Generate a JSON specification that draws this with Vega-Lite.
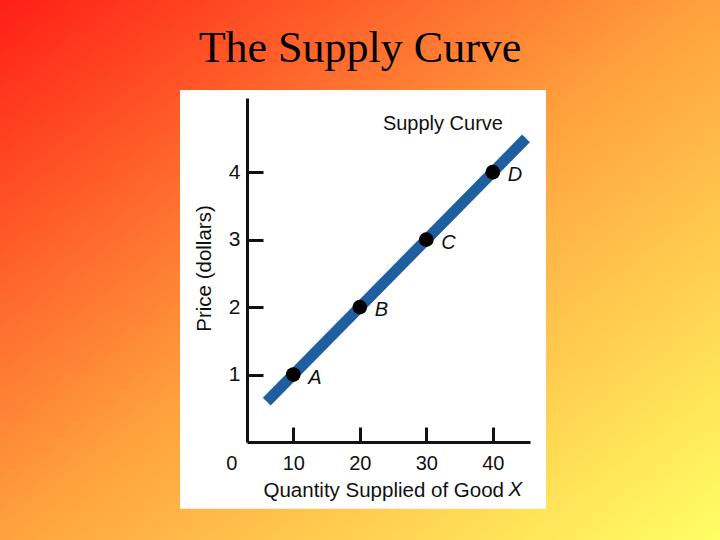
{
  "$schema": "https://vega.github.io/schema/vega-lite/v6.json",
  "width": 283,
  "height": 344,
  "autosize": {"type": "none"},
  "padding": {"left": 247, "top": 98, "right": 190, "bottom": 98},
  "background": "#ffa040",
  "config": {
    "view": {"stroke": null},
    "font": "Liberation Sans",
    "axis": {
      "grid": false,
      "domainColor": "#111111",
      "domainWidth": 3,
      "tickColor": "#111111",
      "tickWidth": 3,
      "labelFont": "Liberation Sans",
      "labelFontSize": 20,
      "labelColor": "#111111",
      "labelFlush": false,
      "labelOverlap": false,
      "titleFont": "Liberation Sans",
      "titleFontSize": 20.5,
      "titleFontWeight": "normal",
      "titleColor": "#111111"
    }
  },
  "datasets": {
    "bg": [{"x": -34.2, "x2": 74.3, "y": -1.46, "y2": 6.56}],
    "panel": [{"x": -7.05, "x2": 48.0, "y": -0.99, "y2": 5.22}],
    "curve": [{"x": 6, "y": 0.6}, {"x": 45, "y": 4.5}],
    "points": [
      {"x": 10, "y": 1, "label": "A"},
      {"x": 20, "y": 2, "label": "B"},
      {"x": 30, "y": 3, "label": "C"},
      {"x": 40, "y": 4, "label": "D"}
    ],
    "curveName": [{"x": 32.5, "y": 4.72, "text": "Supply Curve"}],
    "zero": [{"x": 0.73, "y": -0.32, "text": "0"}],
    "xvar": [{"x": 43.4, "y": -0.8, "text": "X"}],
    "heading": [{"x": 20.03, "y": 5.64, "text": "The Supply Curve"}]
  },
  "layer": [
    {
      "data": {"name": "bg"},
      "mark": {
        "type": "rect",
        "fill": {
          "gradient": "linear",
          "x1": 0, "y1": 0, "x2": 1, "y2": 1,
          "stops": [
            {"offset": 0, "color": "#ff1e16"},
            {"offset": 0.5, "color": "#ffa23e"},
            {"offset": 1, "color": "#ffff64"}
          ]
        }
      },
      "encoding": {
        "x": {
          "field": "x", "type": "quantitative",
          "scale": {"domain": [3.03, 45.6], "nice": false, "zero": false},
          "axis": {
            "zindex": 2,
            "values": [10, 20, 30, 40],
            "format": "d",
            "tickSize": -15,
            "labelPadding": 26,
            "title": "Quantity Supplied of Good",
            "titleX": 16,
            "titleY": 54,
            "titleAlign": "left",
            "titleBaseline": "alphabetic"
          }
        },
        "x2": {"field": "x2"},
        "y": {
          "field": "y", "type": "quantitative",
          "scale": {"domain": [0, 5.1], "nice": false, "zero": false},
          "axis": {
            "zindex": 2,
            "values": [1, 2, 3, 4],
            "format": "d",
            "tickSize": -16,
            "labelPadding": 23,
            "labelFontSize": 21,
            "title": "Price (dollars)",
            "titleX": -36.5,
            "titleY": 170,
            "titleAngle": -90,
            "titleAlign": "center",
            "titleBaseline": "alphabetic"
          }
        },
        "y2": {"field": "y2"}
      }
    },
    {
      "data": {"name": "panel"},
      "mark": {"type": "rect", "fill": "#ffffff"},
      "encoding": {
        "x": {"field": "x", "type": "quantitative"},
        "x2": {"field": "x2"},
        "y": {"field": "y", "type": "quantitative"},
        "y2": {"field": "y2"}
      }
    },
    {
      "data": {"name": "curve"},
      "mark": {"type": "line", "stroke": "#1f5f9f", "strokeWidth": 11},
      "encoding": {
        "x": {"field": "x", "type": "quantitative"},
        "y": {"field": "y", "type": "quantitative"}
      }
    },
    {
      "data": {"name": "points"},
      "mark": {"type": "circle", "size": 215, "fill": "#000000", "opacity": 1},
      "encoding": {
        "x": {"field": "x", "type": "quantitative"},
        "y": {"field": "y", "type": "quantitative"}
      }
    },
    {
      "data": {"name": "points"},
      "mark": {"type": "text", "align": "left", "baseline": "middle", "dx": 15, "dy": 3, "fontSize": 20, "fontStyle": "italic", "font": "Liberation Sans", "fill": "#111111"},
      "encoding": {
        "x": {"field": "x", "type": "quantitative"},
        "y": {"field": "y", "type": "quantitative"},
        "text": {"field": "label"}
      }
    },
    {
      "data": {"name": "curveName"},
      "mark": {"type": "text", "align": "center", "baseline": "middle", "fontSize": 20, "font": "Liberation Sans", "fill": "#111111"},
      "encoding": {
        "x": {"field": "x", "type": "quantitative"},
        "y": {"field": "y", "type": "quantitative"},
        "text": {"field": "text"}
      }
    },
    {
      "data": {"name": "zero"},
      "mark": {"type": "text", "align": "center", "baseline": "middle", "fontSize": 20, "font": "Liberation Sans", "fill": "#111111"},
      "encoding": {
        "x": {"field": "x", "type": "quantitative"},
        "y": {"field": "y", "type": "quantitative"},
        "text": {"field": "text"}
      }
    },
    {
      "data": {"name": "xvar"},
      "mark": {"type": "text", "align": "center", "baseline": "alphabetic", "fontSize": 20.5, "fontStyle": "italic", "font": "Liberation Sans", "fill": "#111111"},
      "encoding": {
        "x": {"field": "x", "type": "quantitative"},
        "y": {"field": "y", "type": "quantitative"},
        "text": {"field": "text"}
      }
    },
    {
      "data": {"name": "heading"},
      "mark": {"type": "text", "align": "center", "baseline": "alphabetic", "fontSize": 44, "font": "Liberation Serif", "fill": "#000000"},
      "encoding": {
        "x": {"field": "x", "type": "quantitative"},
        "y": {"field": "y", "type": "quantitative"},
        "text": {"field": "text"}
      }
    }
  ]
}
